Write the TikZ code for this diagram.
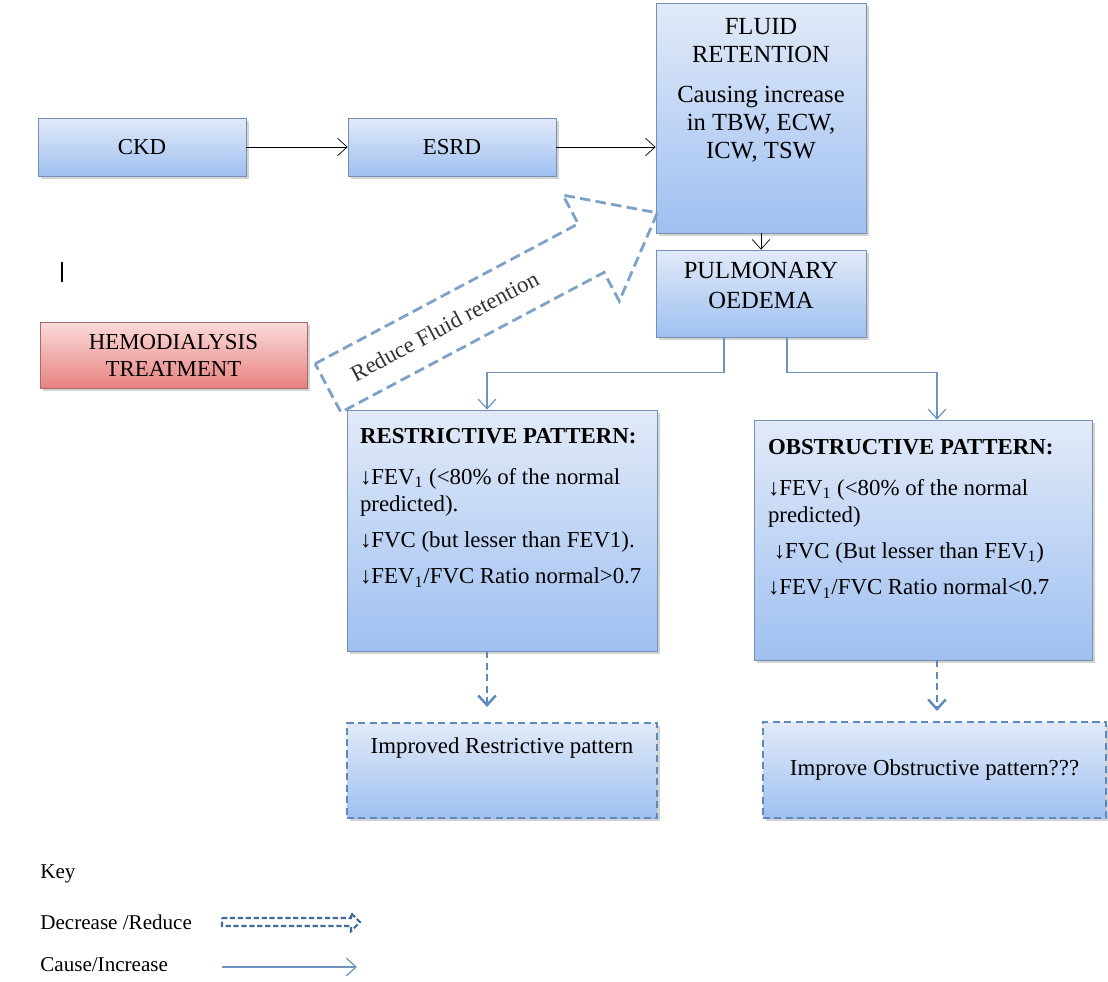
\documentclass[tikz,border=0pt]{standalone}
\usepackage{fontspec}
\setmainfont{Liberation Serif}
\usepackage{tikz}
\usetikzlibrary{arrows.meta,shadows,positioning}

\definecolor{boxtop}{HTML}{E2EAF8}
\definecolor{boxbot}{HTML}{9FC0F1}
\definecolor{boxline}{HTML}{7690B4}
\definecolor{hemotop}{HTML}{FADAD9}
\definecolor{hemobot}{HTML}{E7827F}
\definecolor{hemoline}{HTML}{A86A68}
\definecolor{linkblue}{HTML}{6F93BD}
\definecolor{dashblue}{HTML}{5E8ABD}
\definecolor{keyblue}{HTML}{41699B}

\begin{document}
\begin{tikzpicture}[x=0.02cm,y=-0.02cm,>={Straight Barb[length=5.5pt,width=10pt]},
	box/.style={draw=boxline,top color=boxtop,bottom color=boxbot,drop shadow={shadow xshift=1.5pt,shadow yshift=-1.5pt,opacity=0.35},font=\fontsize{13}{15.5}\selectfont,align=center,inner sep=0pt},
	hemobox/.style={box,draw=hemoline,top color=hemotop,bottom color=hemobot},
	dashbox/.style={box,draw=dashblue,line width=1.2pt,dash pattern=on 4pt off 2.5pt},
	boxtext/.style={font=\fontsize{13}{15.5}\selectfont,inner sep=0pt},
	link/.style={draw=linkblue,line width=0.7pt},
	dasharrow/.style={draw=dashblue,line width=1.4pt,dash pattern=on 4pt off 2.5pt},
	bigdash/.style={draw=dashblue!80,line width=1.6pt,dash pattern=on 6pt off 3pt},
	keytext/.style={font=\fontsize{12}{14}\selectfont,inner sep=0pt,anchor=west}]
	\useasboundingbox (0,0) rectangle (1108,981);
	%Kidney
	\node[box,minimum width=4.16cm,minimum height=1.16cm] (ckd) at (142,147) {CKD};
	\node[box,minimum width=4.16cm,minimum height=1.16cm] (esrd) at (452,147) {ESRD};
	\node[box,minimum width=4.2cm,minimum height=4.6cm] (fluid) at (761,118) {};
	\node[boxtext,align=center,below=0.3cm of fluid.north,font=\fontsize{14}{16}\selectfont] (fluidtxt)
		{FLUID\\RETENTION\\[7pt]Causing increase\\in TBW, ECW,\\ICW, TSW};
	\node[box,minimum width=4.2cm,minimum height=1.74cm] (pulm) at (761,293.5) {};
	\node[boxtext,align=center,below=0.25cm of pulm.north,font=\fontsize{14}{17}\selectfont] (pulmtxt) {PULMONARY\\OEDEMA};
	\draw[->] (ckd) -- (esrd);
	\draw[->] (esrd.east) -- (esrd.east -| fluid.west);
	\draw[->] (fluid) -- (pulm);
	%Treatment
	\node[inner sep=0pt] (cursor) at (62,272) {\rule{1.5pt}{11pt}};
	\node[hemobox,minimum width=5.34cm,minimum height=1.32cm] (hemo) at (173.5,355.5) {HEMODIALYSIS\\TREATMENT};
	\begin{scope}[shift={(328,388)},rotate=28]
		\draw[bigdash] (0,-27.5) -- (298,-27.5) -- (298,-60) -- (373,0) -- (298,60) -- (298,27.5) -- (0,27.5) -- cycle;
		\node[boxtext,rotate=28,text=black!80] (reduce) at (132,0) {Reduce Fluid retention};
	\end{scope}
	%Patterns
	\node[box,minimum width=6.2cm,minimum height=4.82cm] (restr) at (502,530.5) {};
	\node[boxtext,align=left,below right=0.36cm and 0.26cm of restr.north west] (restrtxt)
		{\textbf{RESTRICTIVE PATTERN:}\\[8pt]
		↓FEV\textsubscript{1} (<80\% of the normal\\
		predicted).\\[5pt]
		↓FVC (but lesser than FEV1).\\[5pt]
		↓FEV\textsubscript{1}/FVC Ratio normal>0.7};
	\node[box,minimum width=6.76cm,minimum height=4.8cm] (obstr) at (923,540) {};
	\node[boxtext,align=left,below right=0.38cm and 0.28cm of obstr.north west] (obstrtxt)
		{\textbf{OBSTRUCTIVE PATTERN:}\\[8pt]
		↓FEV\textsubscript{1} (<80\% of the normal\\
		predicted)\\[5pt]
		\ ↓FVC (But lesser than FEV\textsubscript{1})\\[5pt]
		↓FEV\textsubscript{1}/FVC Ratio normal<0.7};
	\coordinate (rin) at ([xshift=-0.3cm]restr.north);
	\coordinate (oin) at ([xshift=0.28cm]obstr.north);
	\draw[link,->] ([xshift=-0.74cm]pulm.south) -- ++(0,35) -| (rin);
	\draw[link,->] ([xshift=0.52cm]pulm.south) -- ++(0,35) -| (oin);
	%Outcome
	\node[dashbox,minimum width=6.2cm,minimum height=1.9cm] (impr) at (502,770.5) {};
	\node[boxtext,below=0.3cm of impr.north] (imprtxt) {Improved Restrictive pattern};
	\node[dashbox,minimum width=6.86cm,minimum height=1.92cm] (impo) at (934.5,770) {Improve Obstructive pattern???};
	\coordinate (rtip) at ([xshift=-0.3cm,yshift=0.3cm]impr.north);
	\coordinate (otip) at ([xshift=0.05cm,yshift=0.2cm]impo.north);
	\draw[dasharrow,->] (restr.south -| rtip) -- (rtip);
	\draw[dasharrow,->] (obstr.south -| otip) -- (otip);
	%Key
	\node[keytext] (keyhead) at (40,874) {Key};
	\node[keytext] (keyreduce) at (40,922) {Decrease /Reduce};
	\node[keytext] (keycause) at (40,965) {Cause/Increase};
	\draw[keyblue,line width=1.2pt,dash pattern=on 3pt off 1.5pt] (222,918) -- (351,918) -- (351,913) -- (360,922) -- (351,931) -- (351,926) -- (222,926) -- cycle;
	\coordinate (kc1) at (222,967);
	\coordinate (kc2) at (357,967);
	\draw[link,->] (kc1) -- (kc2);
\end{tikzpicture}
\end{document}
